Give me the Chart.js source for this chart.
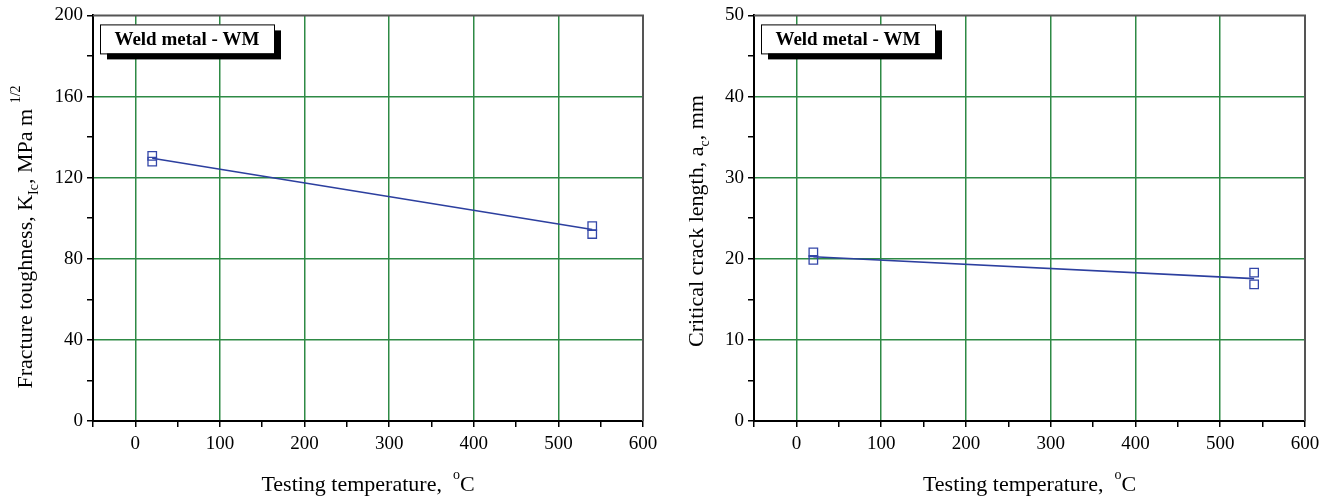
<!DOCTYPE html>
<html>
<head>
<meta charset="utf-8">
<script src="https://cdn.jsdelivr.net/npm/chart.js@4.4.1/dist/chart.umd.min.js"></script>
<style>
body { margin: 0; background: #fff; }
#wrap { position: relative; width: 1331px; height: 501px; }
canvas { position: absolute; top: 0; }
</style>
</head>
<body>
<div id="wrap">
    <canvas id="chart-kic" width="666" height="501" style="left:0"></canvas>
    <canvas id="chart-ac" width="665" height="501" style="left:666px"></canvas>
</div>
<script>
// datos
const tempX = [20, 20, 540, 540];
const kicValues = [130.7, 127.9, 96.1, 92.2];
const acValues = [20.8, 19.85, 18.3, 16.85];
const fitX = [20, 540];
const kicFit = [129.6, 94.4];
const acFit = [20.25, 17.55];
const xLabels = [0, 100, 200, 300, 400, 500, 600];
const kicLabels = [0, 40, 80, 120, 160, 200];
const acLabels = [0, 10, 20, 30, 40, 50];

const GREEN = '#2e8a45';
const BLUE = '#3346a8';
const FONT = '"Liberation Serif", "Times New Roman", serif';

Chart.defaults.font.family = FONT;
Chart.defaults.color = '#000';

function drawRich(ctx, parts, cx, y, size) {
    const small = Math.round(size * 0.62);
    let total = 0;
    const items = parts.map(p => {
        const f = p[1] ? small : size;
        ctx.font = f + 'px ' + FONT;
        const w = ctx.measureText(p[0]).width;
        total += w;
        const dy = p[1] === 'sub' ? size * 0.28 : p[1] === 'sup' ? -size * 0.55 : 0;
        return { t: p[0], f: f, w: w, dy: dy };
    });
    let x = cx - total / 2;
    ctx.textAlign = 'left';
    ctx.textBaseline = 'alphabetic';
    items.forEach(it => {
        ctx.font = it.f + 'px ' + FONT;
        ctx.fillText(it.t, x, y + it.dy);
        x += it.w;
    });
}

const decorPlugin = {
    id: 'decor',
    afterDraw(chart, args, o) {
        const ctx = chart.ctx;
        const a = chart.chartArea;
        ctx.save();
        // marco superior y derecho
        ctx.strokeStyle = '#555';
        ctx.lineWidth = 2;
        ctx.beginPath();
        ctx.moveTo(a.left, a.top);
        ctx.lineTo(a.right, a.top);
        ctx.lineTo(a.right, a.bottom);
        ctx.stroke();

        // caja de leyenda con sombra
        const bx = a.left + 7, by = a.top + 9, bw = 174, bh = 29;
        ctx.fillStyle = '#000';
        ctx.fillRect(bx + 7, by + 6, bw, bh);
        ctx.fillStyle = '#fff';
        ctx.fillRect(bx, by, bw, bh);
        ctx.strokeStyle = '#000';
        ctx.lineWidth = 1;
        ctx.strokeRect(bx + 0.5, by + 0.5, bw, bh);
        ctx.fillStyle = '#000';
        ctx.font = 'bold 19px ' + FONT;
        ctx.textAlign = 'center';
        ctx.textBaseline = 'middle';
        ctx.fillText('Weld metal - WM', bx + bw / 2, by + bh / 2 + 1);

        // titulo eje x
        drawRich(ctx, [['Testing temperature,  '], ['o', 'sup'], ['C']], (a.left + a.right) / 2, 491, 22);

        // titulo eje y (rotado)
        ctx.translate(o.yTitleX, o.yTitleY);
        ctx.rotate(-Math.PI / 2);
        drawRich(ctx, o.yTitle, 0, 0, 22);
        ctx.restore();
    }
};

function gridColor(c, labels, min, max) {
    const v = c.tick ? Math.round(c.tick.value * 1000) / 1000 : null;
    return (labels.includes(v) && v > min && v < max) ? GREEN : 'rgba(0,0,0,0)';
}

function createChart(canvasId, values, fit, yMax, yStep, yLabels, yWidth, padRight, yTitle, yTitleX, yTitleY) {
    const ctx = document.getElementById(canvasId).getContext('2d');
    return new Chart(ctx, {
        type: 'scatter',
        data: {
            datasets: [{
                data: tempX.map((x, i) => ({ x: x, y: values[i] })),
                pointStyle: 'rect',
                pointRadius: 6,
                pointHoverRadius: 6,
                borderColor: BLUE,
                backgroundColor: 'rgba(0,0,0,0)',
                borderWidth: 1.3,
                showLine: false
            }, {
                data: fitX.map((x, i) => ({ x: x, y: fit[i] })),
                showLine: true,
                pointRadius: 0,
                borderColor: '#2c3f9f',
                borderWidth: 1.6
            }]
        },
        options: {
            responsive: false,
            animation: false,
            devicePixelRatio: 1,
            layout: { padding: { top: 13, right: padRight, left: 0, bottom: 0 } },
            plugins: {
                legend: { display: false },
                tooltip: { enabled: false },
                decor: { yTitle: yTitle, yTitleX: yTitleX, yTitleY: yTitleY }
            },
            scales: {
                x: {
                    type: 'linear',
                    min: -50,
                    max: 600,
                    afterFit: s => { s.height = 80; },
                    border: { color: '#000', width: 2 },
                    grid: {
                        color: c => gridColor(c, xLabels, -50, 600),
                        tickColor: '#000',
                        tickLength: 6,
                        lineWidth: 1.5
                    },
                    ticks: {
                        stepSize: 50,
                        autoSkip: false,
                        maxRotation: 0,
                        padding: 6,
                        font: { size: 19 },
                        color: '#000',
                        callback: v => xLabels.includes(v) ? v : ''
                    }
                },
                y: {
                    type: 'linear',
                    min: 0,
                    max: yMax,
                    afterFit: s => { s.width = yWidth; },
                    border: { color: '#000', width: 2 },
                    grid: {
                        color: c => gridColor(c, yLabels, 0, yMax),
                        tickColor: '#000',
                        tickLength: 6,
                        lineWidth: 1.5
                    },
                    ticks: {
                        stepSize: yStep,
                        autoSkip: false,
                        padding: 4,
                        font: { size: 19 },
                        color: '#000',
                        callback: v => yLabels.includes(v) ? v : ''
                    }
                }
            }
        },
        plugins: [decorPlugin]
    });
}

createChart('chart-kic', kicValues, kicFit, 200, 20, kicLabels, 93, 23,
    [['Fracture toughness, K'], ['Ic', 'sub'], [', MPa m '], ['1/2', 'sup']], 32, 237);

createChart('chart-ac', acValues, acFit, 50, 5, acLabels, 88, 26,
    [['Critical crack length, a'], ['c', 'sub'], [', mm']], 37, 221);
</script>
</body>
</html>
